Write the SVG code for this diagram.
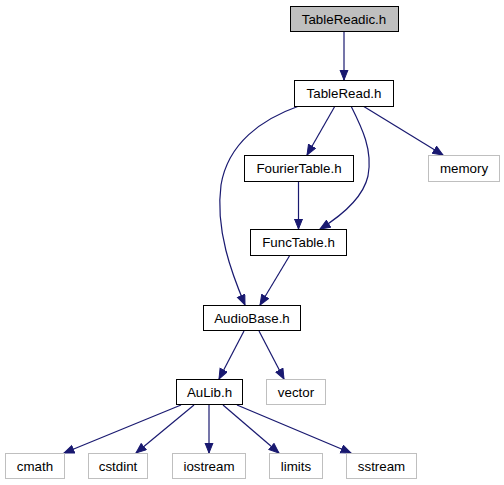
<svg xmlns="http://www.w3.org/2000/svg" width="504" height="485" viewBox="0 0 504 485">
<style>
.n rect{fill:#fff;stroke:#000;stroke-width:1}
.n.g rect{stroke:#bfbfbf}
.n.cur rect{fill:#bfbfbf}
text{font-family:"Liberation Sans",Arial,sans-serif;font-size:13.33px;fill:#000;text-anchor:middle}
.e path{fill:none;stroke:#191970;stroke-width:1.2}
</style>
<defs>
<marker id="ah" markerUnits="userSpaceOnUse" markerWidth="12" markerHeight="10" refX="10.5" refY="4.5" orient="auto">
<path d="M0.5,0.5 L10.5,4.5 L0.5,8.5 z" fill="#191970" stroke="#191970" stroke-width="1"/>
</marker>
</defs>
<rect width="504" height="485" fill="#fff"/>
<g id="edges" class="e">
<path d="M344,31 L344,80" marker-end="url(#ah)"/>
<path d="M335,106 L307,155" marker-end="url(#ah)"/>
<path d="M363,106 L443,155" marker-end="url(#ah)"/>
<path d="M351,106 C362,128 373,150 368,176 C363,198 341,216 320,229" marker-end="url(#ah)"/>
<path d="M298.5,181 L298.5,229" marker-end="url(#ah)"/>
<path d="M299,106 C262,119 228,143 221,185 C215,230 232,274 245,305" marker-end="url(#ah)"/>
<path d="M290,255 L260,305" marker-end="url(#ah)"/>
<path d="M244,331 L219,379" marker-end="url(#ah)"/>
<path d="M259,331 L284,379" marker-end="url(#ah)"/>
<path d="M181,405 L64,453" marker-end="url(#ah)"/>
<path d="M194,405 L136,453" marker-end="url(#ah)"/>
<path d="M209,405 L209,453" marker-end="url(#ah)"/>
<path d="M223,405 L279,453" marker-end="url(#ah)"/>
<path d="M237,405 L351,453" marker-end="url(#ah)"/>
</g>
<g id="TableReadic" class="n cur"><rect x="290.5" y="6.5" width="108" height="25"/><text x="344" y="23.5">TableReadic.h</text></g>
<g id="TableRead" class="n"><rect x="294.5" y="80.5" width="99" height="26"/><text x="344" y="98">TableRead.h</text></g>
<g id="FourierTable" class="n"><rect x="244.5" y="155.5" width="109" height="26"/><text x="299" y="173">FourierTable.h</text></g>
<g id="memory" class="n g"><rect x="428.5" y="155.5" width="71" height="26"/><text x="464" y="173">memory</text></g>
<g id="FuncTable" class="n"><rect x="250.5" y="229.5" width="96" height="26"/><text x="298.5" y="247">FuncTable.h</text></g>
<g id="AudioBase" class="n"><rect x="203.5" y="305.5" width="97" height="25"/><text x="252" y="322.5">AudioBase.h</text></g>
<g id="AuLib" class="n"><rect x="176.5" y="379.5" width="66" height="25"/><text x="209.5" y="397">AuLib.h</text></g>
<g id="vector" class="n g"><rect x="266.5" y="379.5" width="59" height="25"/><text x="296" y="397">vector</text></g>
<g id="cmath" class="n g"><rect x="5.5" y="453.5" width="59" height="25"/><text x="35" y="471">cmath</text></g>
<g id="cstdint" class="n g"><rect x="88.5" y="453.5" width="59" height="25"/><text x="118" y="471">cstdint</text></g>
<g id="iostream" class="n g"><rect x="172.5" y="453.5" width="73" height="25"/><text x="209" y="471">iostream</text></g>
<g id="limits" class="n g"><rect x="269.5" y="453.5" width="53" height="25"/><text x="296" y="471">limits</text></g>
<g id="sstream" class="n g"><rect x="346.5" y="453.5" width="70" height="25"/><text x="381.5" y="471">sstream</text></g>
</svg>
